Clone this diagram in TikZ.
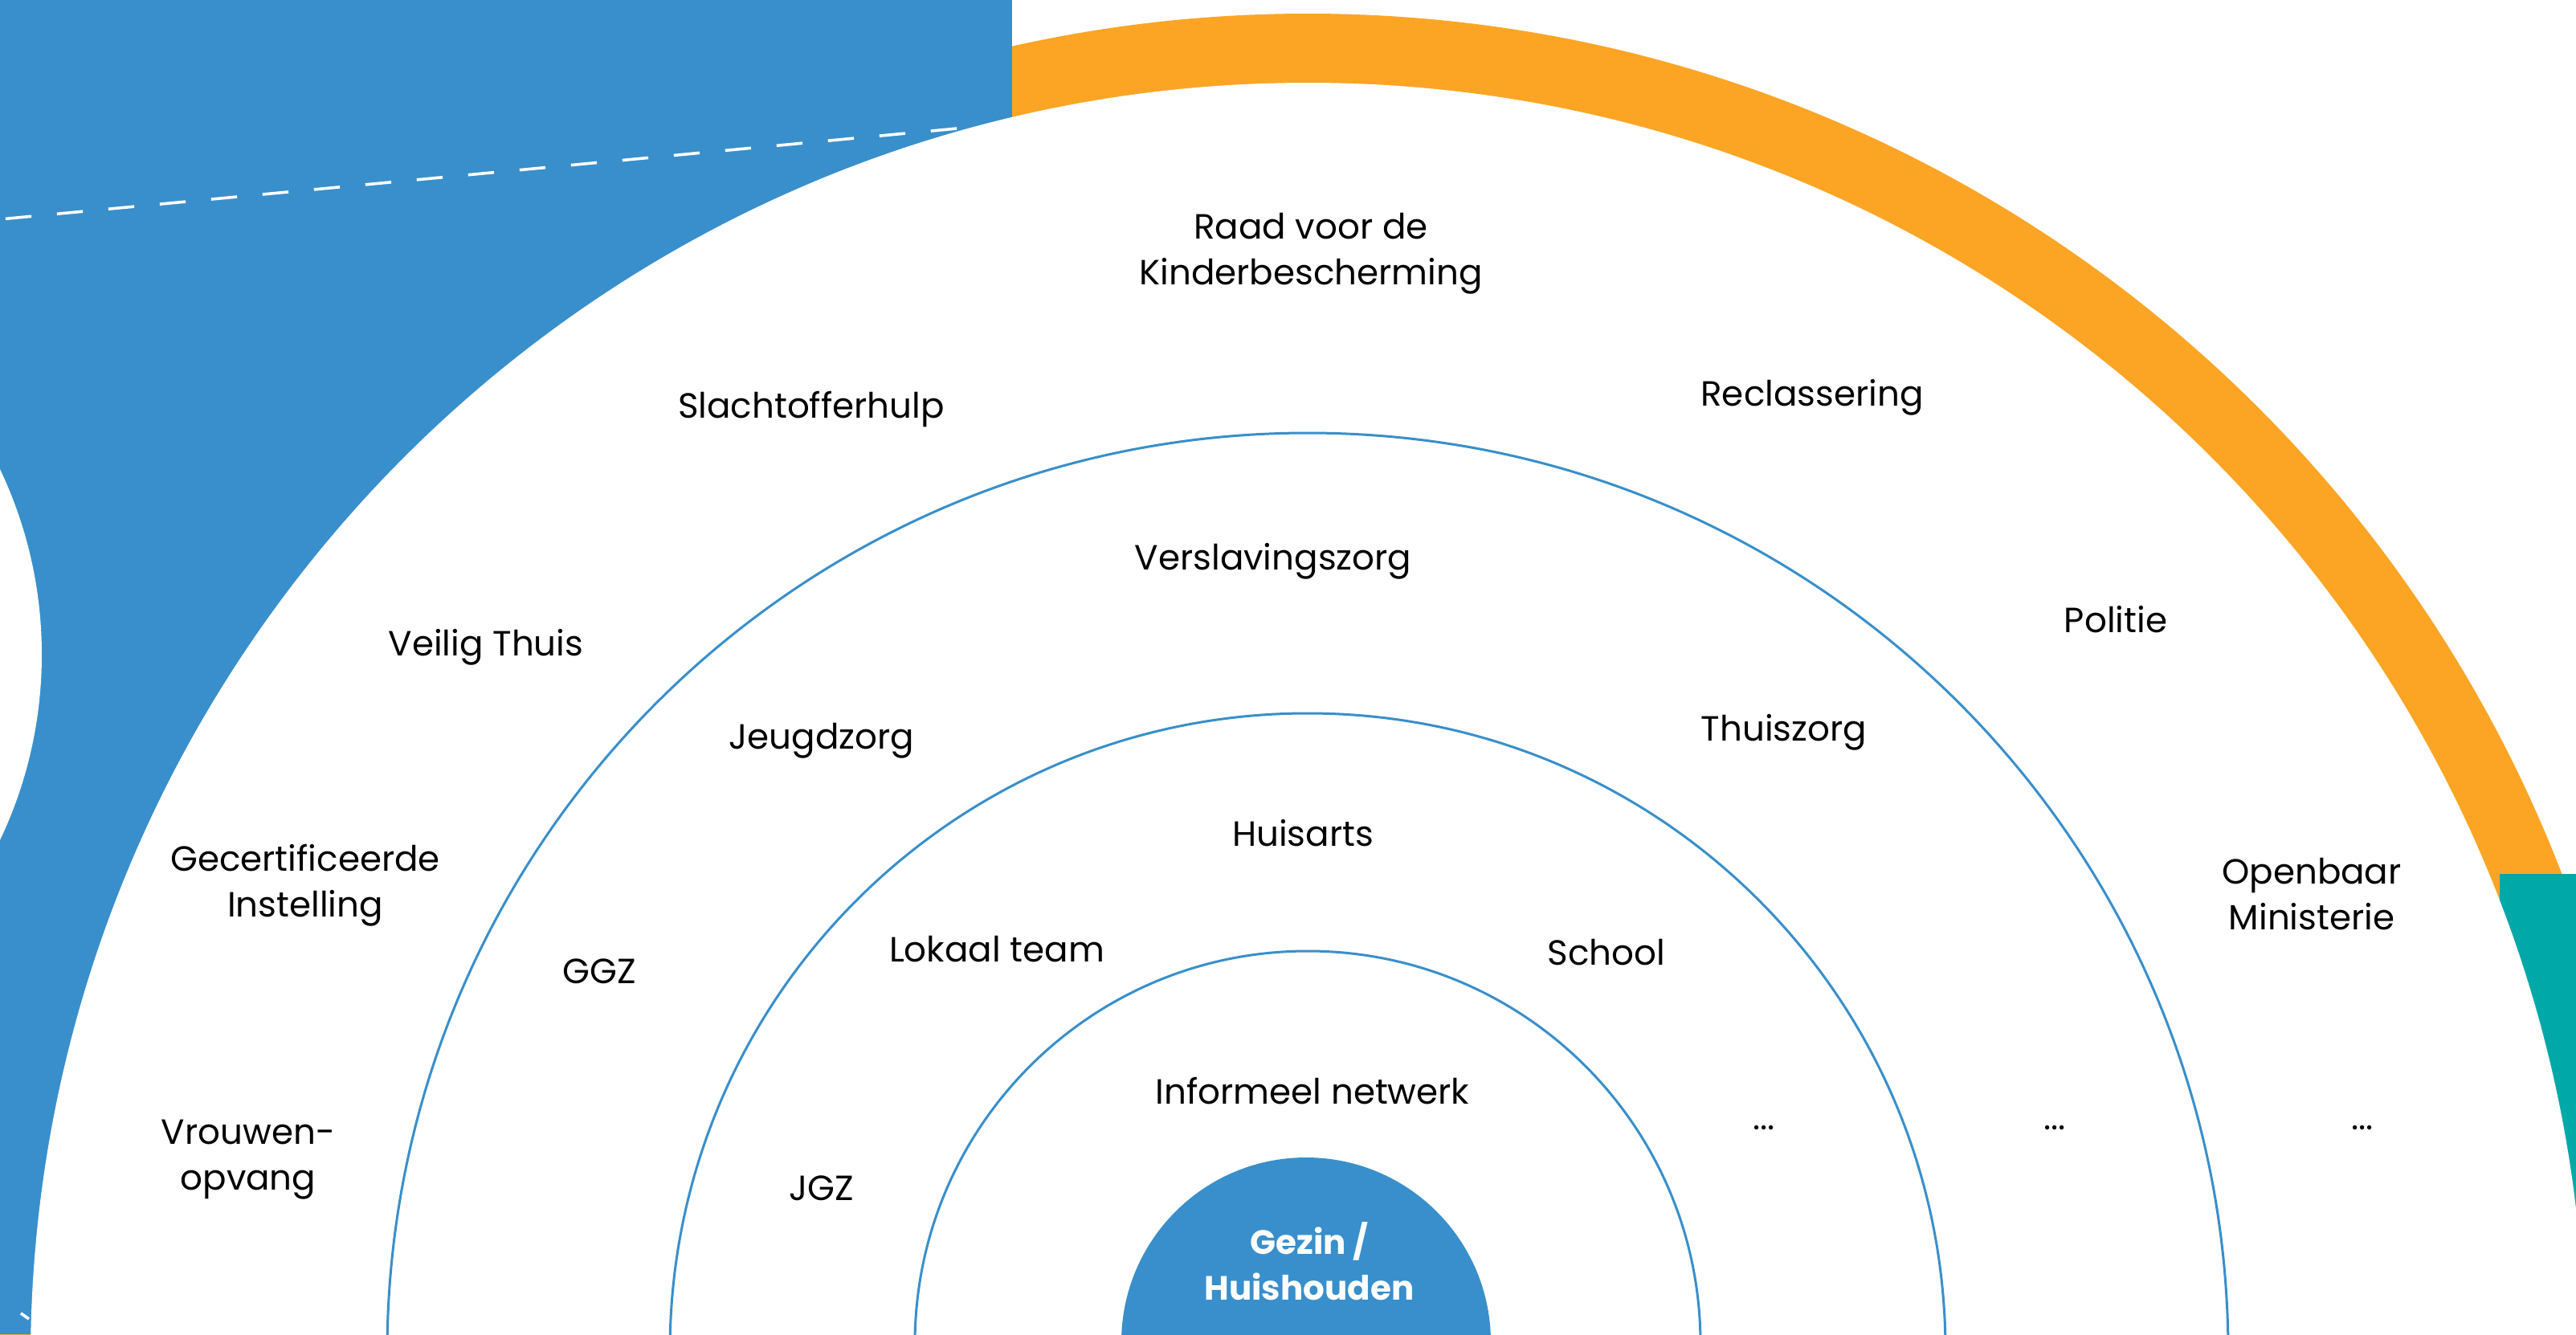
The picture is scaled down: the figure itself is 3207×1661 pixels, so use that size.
\documentclass[tikz,border=0pt]{standalone}
\usepackage{fontspec}
\setmainfont{Poppins}
\definecolor{cblue}{RGB}{57,143,203}
\definecolor{corange}{RGB}{252,165,37}
\definecolor{cteal}{RGB}{0,169,168}
\begin{document}
\begin{tikzpicture}[x=0.25pt,y=-0.25pt,
  lbl/.style={font=\fontsize{10.9}{14.25}\selectfont, align=center, inner sep=0pt, text=black},
  ringline/.style={draw=cblue, line width=0.75pt}]
\useasboundingbox (0,0) rectangle (3207,1661);
\begin{scope}
\clip (0,0) rectangle (3207,1661);
\fill[corange] (1628,1690) circle[radius=1673];
\fill[cblue] (0,0) rectangle (1260,1661);
\fill[cteal] (3112,1088) rectangle (3207,1661);
\fill[white] (-485,815) circle[radius=537];
\fill[white] (1628,1693) circle[radius=1590];
\coordinate (dA) at (1191,160);
\coordinate (dB) at (0,273);
\draw[white, line width=0.9pt, dash pattern=on 8.1pt off 7.97pt] (dA) -- (dB);
\coordinate (tA) at (26,1635);
\coordinate (tB) at (36,1642);
\draw[white, line width=0.9pt] (tA) -- (tB);
\draw[ringline] (1628,1685) circle[radius=1146];
\draw[ringline] (1628,1682) circle[radius=794];
\draw[ringline] (1628,1673) circle[radius=489];
\fill[cblue] (1626,1671) circle[radius=230];
\end{scope}
\node[lbl] (raad) at (1632,316) {Raad voor de\\Kinderbescherming};
\node[lbl] (slacht) at (1010,509) {Slachtofferhulp};
\node[lbl] (recl) at (2256,495) {Reclassering};
\node[lbl] (versl) at (1585,699) {Verslavingszorg};
\node[lbl] (veilig) at (605,806) {Veilig Thuis};
\node[lbl] (politie) at (2634,771) {Politie};
\node[lbl] (jeugd) at (1023,922) {Jeugdzorg};
\node[lbl] (thuis) at (2221,912) {Thuiszorg};
\node[lbl] (huisarts) at (1622,1037) {Huisarts};
\node[lbl] (gecert) at (380,1102) {Gecertificeerde\\Instelling};
\node[lbl] (om) at (2878,1113) {Openbaar\\Ministerie};
\node[lbl] (lokaal) at (1241,1182) {Lokaal team};
\node[lbl] (school) at (2000,1186) {School};
\node[lbl] (ggz) at (746,1209) {GGZ};
\node[lbl] (inf) at (1634,1358) {Informeel netwerk};
\node[lbl] (vrouw) at (309,1444) {Vrouwen-\\opvang};
\node[lbl, anchor=base] (dots1) at (2196,1406) {...};
\node[lbl, anchor=base] (dots2) at (2558,1406) {...};
\node[lbl, anchor=base] (dots3) at (2941,1406) {...};
\node[lbl] (jgz) at (1023,1479) {JGZ};
\node[lbl, text=white, font=\fontsize{10.5}{14.25}\selectfont\bfseries] (gezin) at (1630,1570) {Gezin /\\Huishouden};
\end{tikzpicture}
\end{document}
